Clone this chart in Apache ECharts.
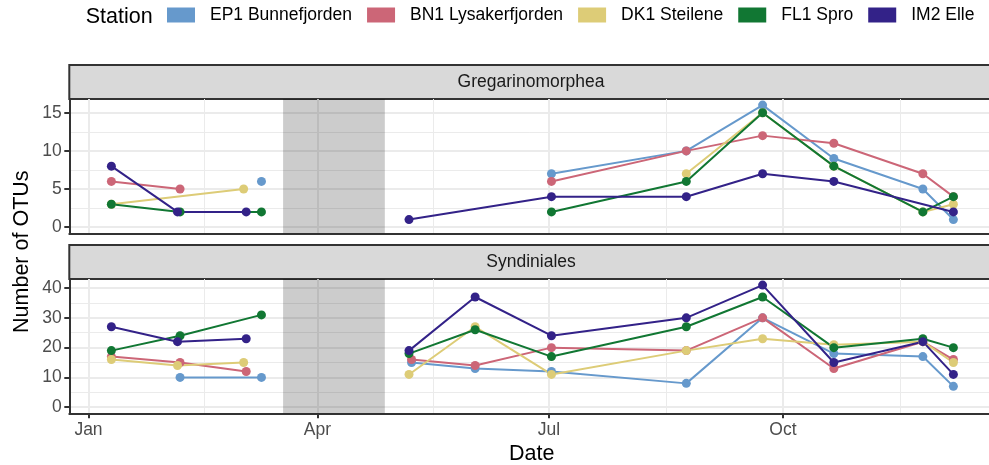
<!DOCTYPE html>
<html>
<head>
<meta charset="utf-8">
<script src="https://cdn.jsdelivr.net/npm/echarts@6/dist/echarts.min.js"></script>
<style>
  html, body { margin: 0; padding: 0; background: #ffffff; }
  #chart { width: 989px; height: 465px; }
</style>
</head>
<body>
<div id="chart"></div>
<script>
// Stations and taxonomic groups
const stations = ['EP1 Bunnefjorden', 'BN1 Lysakerfjorden', 'DK1 Steilene', 'FL1 Spro', 'IM2 Elle'];
const stationColors = ['#6699CC', '#CC6677', '#DDCC77', '#117733', '#332288'];
const groups = ['Gregarinomorphea', 'Syndiniales'];

// Number of OTUs per sampling date: [date, OTUs]
const gregEP1 = [['2019-03-10', 6], ['2019-07-02', 7], ['2019-08-24', 10], ['2019-09-23', 16], ['2019-10-21', 9], ['2019-11-25', 5], ['2019-12-07', 1]];
const gregBN1 = [['2019-01-10', 6], ['2019-02-06', 5], ['2019-07-02', 6], ['2019-08-24', 10], ['2019-09-23', 12], ['2019-10-21', 11], ['2019-11-25', 7], ['2019-12-07', 4]];
const gregDK1 = [['2019-01-10', 3], ['2019-03-03', 5], ['2019-08-24', 7], ['2019-09-23', 15], ['2019-10-21', 8], ['2019-11-25', 2], ['2019-12-07', 3]];
const gregFL1 = [['2019-01-10', 3], ['2019-02-06', 2], ['2019-03-10', 2], ['2019-07-02', 2], ['2019-08-24', 6], ['2019-09-23', 15], ['2019-10-21', 8], ['2019-11-25', 2], ['2019-12-07', 4]];
const gregIM2 = [['2019-01-10', 8], ['2019-02-05', 2], ['2019-03-04', 2], ['2019-05-07', 1], ['2019-07-02', 4], ['2019-08-24', 4], ['2019-09-23', 7], ['2019-10-21', 6], ['2019-12-07', 2]];

const syndEP1 = [['2019-02-06', 10], ['2019-03-10', 10], ['2019-05-08', 15], ['2019-06-02', 13], ['2019-07-02', 12], ['2019-08-24', 8], ['2019-09-23', 30], ['2019-10-21', 18], ['2019-11-25', 17], ['2019-12-07', 7]];
const syndBN1 = [['2019-01-10', 17], ['2019-02-06', 15], ['2019-03-04', 12], ['2019-05-08', 16], ['2019-06-02', 14], ['2019-07-02', 20], ['2019-08-24', 19], ['2019-09-23', 30], ['2019-10-21', 13], ['2019-11-25', 22], ['2019-12-07', 16]];
const syndDK1 = [['2019-01-10', 16], ['2019-02-05', 14], ['2019-03-03', 15], ['2019-05-07', 11], ['2019-06-02', 27], ['2019-07-02', 11], ['2019-08-24', 19], ['2019-09-23', 23], ['2019-10-21', 21], ['2019-11-25', 22], ['2019-12-07', 15]];
const syndFL1 = [['2019-01-10', 19], ['2019-02-06', 24], ['2019-03-10', 31], ['2019-05-07', 18], ['2019-06-02', 26], ['2019-07-02', 17], ['2019-08-24', 27], ['2019-09-23', 37], ['2019-10-21', 20], ['2019-11-25', 23], ['2019-12-07', 20]];
const syndIM2 = [['2019-01-10', 27], ['2019-02-05', 22], ['2019-03-04', 23], ['2019-05-07', 19], ['2019-06-02', 37], ['2019-07-02', 24], ['2019-08-24', 30], ['2019-09-23', 41], ['2019-10-21', 15], ['2019-11-25', 22], ['2019-12-07', 11]];

// Period without sampling (shaded)
const noSampling = ['2019-03-18 12:00', '2019-04-27 12:00'];

// Axis ticks
const xRange = ['2018-12-24 11:00', '2019-12-21 00:00'];
const xTickDates = ['2019-01-01', '2019-04-01', '2019-07-01', '2019-10-01'];
const xTickLabels = ['Jan', 'Apr', 'Jul', 'Oct'];
const xMinorDates = ['2019-02-15 12:00', '2019-05-16 12:00', '2019-08-16', '2019-11-16'];
const yRanges = [[-0.8, 16.8], [-2.05, 43.05]];
const yTicks = [[0, 5, 10, 15], [0, 10, 20, 30, 40]];
const yMinorTicks = [[2.5, 7.5, 12.5], [5, 15, 25, 35]];

const panelSeries = [
  [gregEP1, gregBN1, gregDK1, gregFL1, gregIM2],
  [syndEP1, syndBN1, syndDK1, syndFL1, syndIM2]
];

const FONT = '"Liberation Sans", Arial, Helvetica, sans-serif';
// dates are placed on a numeric (millisecond) axis
const parseT = (s) => echarts.time.parse(s).getTime();
const gapStart = parseT(noSampling[0]);
const gapEnd = parseT(noSampling[1]);
const xTickTimes = xTickDates.map(parseT);
const xMinorTimes = xMinorDates.map(parseT);
const xMin = parseT(xRange[0]);
const xMax = parseT(xRange[1]);

const toPoints = (arr) => arr.map(d => [parseT(d[0]), d[1]]);

// Lines are broken across the no-sampling period
function withGap(points) {
  const out = [];
  points.forEach((p, i) => {
    if (i > 0 && points[i - 1][0] < gapStart && p[0] > gapEnd) {
      out.push([gapStart, '-']);
    }
    out.push(p);
  });
  return out;
}

const panelTops = [99, 279];
const panelHeight = 134.3;
const panelLeft = 69.3;

const grids = panelTops.map(t => ({
  left: panelLeft, top: t, right: 0, height: panelHeight,
  containLabel: false, outerBoundsMode: 'none'
}));

const xAxes = [];
const yAxes = [];
groups.forEach((g, p) => {
  const isBottom = p === groups.length - 1;
  xAxes.push({
    type: 'value', gridIndex: p, min: xMin, max: xMax, scale: true,
    axisLine: { show: true, onZero: false, lineStyle: { color: '#333333', width: 2 } },
    axisTick: { show: isBottom, customValues: xTickTimes, length: 5, lineStyle: { color: '#333333', width: 2 } },
    axisLabel: {
      show: isBottom, customValues: xTickTimes, margin: 8,
      fontSize: 17.5, fontFamily: FONT, color: '#4d4d4d',
      formatter: (v) => {
        let best = 0;
        xTickTimes.forEach((t, i) => { if (Math.abs(t - v) < Math.abs(xTickTimes[best] - v)) best = i; });
        return xTickLabels[best];
      }
    },
    splitLine: { show: true, lineStyle: { color: '#ebebeb', width: 2 } }
  });
  xAxes.push({
    type: 'value', gridIndex: p, min: xMin, max: xMax, scale: true, position: 'bottom',
    axisLine: { show: false },
    axisTick: { show: false, customValues: xMinorTimes },
    axisLabel: { show: false, customValues: xMinorTimes },
    splitLine: { show: true, lineStyle: { color: '#ebebeb', width: 1 } }
  });
  yAxes.push({
    type: 'value', gridIndex: p, min: yRanges[p][0], max: yRanges[p][1],
    axisLine: { show: true, onZero: false, lineStyle: { color: '#333333', width: 2 } },
    axisTick: { show: true, customValues: yTicks[p], length: 5, lineStyle: { color: '#333333', width: 2 } },
    axisLabel: { show: true, customValues: yTicks[p], margin: 7.5, fontSize: 17.5, fontFamily: FONT, color: '#4d4d4d' },
    splitLine: { show: true, lineStyle: { color: '#ebebeb', width: 2 } }
  });
  yAxes.push({
    type: 'value', gridIndex: p, min: yRanges[p][0], max: yRanges[p][1], position: 'left',
    axisLine: { show: false },
    axisTick: { show: false, customValues: yMinorTicks[p] },
    axisLabel: { show: false, customValues: yMinorTicks[p] },
    splitLine: { show: true, lineStyle: { color: '#ebebeb', width: 1 } }
  });
});

const series = [];
groups.forEach((g, p) => {
  // shaded no-sampling period
  series.push({
    type: 'line', name: 'no-sampling-' + p, xAxisIndex: 2 * p, yAxisIndex: 2 * p,
    data: [], silent: true, z: 1,
    markArea: {
      silent: true,
      itemStyle: { color: 'rgba(0,0,0,0.2)' },
      data: [[{ xAxis: gapStart }, { xAxis: gapEnd }]]
    }
  });
  panelSeries[p].forEach((arr, s) => {
    series.push({
      type: 'line', name: stations[s], xAxisIndex: 2 * p, yAxisIndex: 2 * p,
      data: withGap(toPoints(arr)), showSymbol: false, connectNulls: false,
      color: stationColors[s],
      itemStyle: { color: stationColors[s] },
      lineStyle: { color: stationColors[s], width: 2 },
      emphasis: { disabled: true }, z: 2
    });
  });
  panelSeries[p].forEach((arr, s) => {
    series.push({
      type: 'scatter', name: stations[s], xAxisIndex: 2 * p, yAxisIndex: 2 * p,
      data: toPoints(arr), symbol: 'circle', symbolSize: 9,
      color: stationColors[s],
      itemStyle: { color: stationColors[s], opacity: 1 },
      emphasis: { disabled: true }, z: 3
    });
  });
});

const graphic = [
  { type: 'text', x: 85.7, y: 17, style: { text: 'Station', font: '21.5px ' + FONT, fill: '#000000', align: 'left', verticalAlign: 'middle' } },
  { type: 'text', x: 22.5, y: 251.7, rotation: Math.PI / 2, style: { text: 'Number of OTUs', font: '21.5px ' + FONT, fill: '#000000', align: 'center', verticalAlign: 'middle' } },
  { type: 'text', x: 531.7, y: 454, style: { text: 'Date', font: '21.5px ' + FONT, fill: '#000000', align: 'center', verticalAlign: 'middle' } }
];
groups.forEach((g, p) => {
  const top = panelTops[p] - 34;
  graphic.push({ type: 'rect', shape: { x: panelLeft, y: top, width: 960, height: 34 }, style: { fill: '#d9d9d9', stroke: '#333333', lineWidth: 2 } });
  graphic.push({ type: 'text', x: 531, y: top + 17, style: { text: g, font: '17.5px ' + FONT, fill: '#1a1a1a', align: 'center', verticalAlign: 'middle' } });
});

const chart = echarts.init(document.getElementById('chart'), null, { renderer: 'canvas' });
chart.setOption({
  animation: false,
  backgroundColor: '#ffffff',
  grid: grids,
  xAxis: xAxes,
  yAxis: yAxes,
  legend: {
    show: true, data: stations, top: 6, left: 167, padding: 0, orient: 'horizontal',
    icon: 'rect', itemWidth: 28, itemHeight: 15, itemGap: 15, selectedMode: false,
    textStyle: { fontSize: 17.5, fontFamily: FONT, color: '#000000', padding: [0, 0, 0, 10] }
  },
  tooltip: { show: false },
  graphic: graphic,
  series: series
});
</script>
</body>
</html>
